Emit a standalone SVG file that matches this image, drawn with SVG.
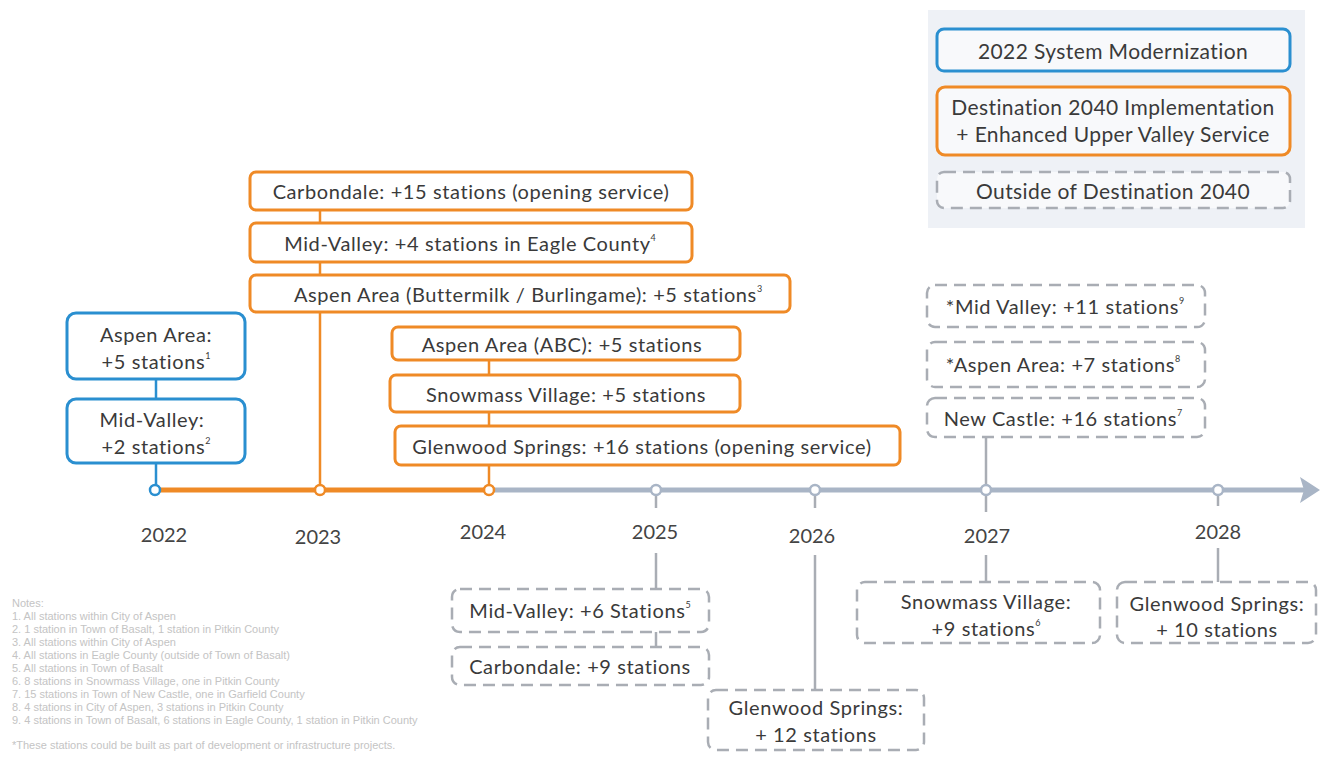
<svg xmlns="http://www.w3.org/2000/svg" width="1323" height="758" viewBox="0 0 1323 758">
<style>
.t{font-family:Lato,"Noto Sans","Liberation Sans",sans-serif;font-size:20px;font-weight:400;letter-spacing:0.6px;fill:#3a3a3a;text-anchor:middle;dominant-baseline:central}
.lg{font-size:21px;letter-spacing:0.4px}
.yr{font-family:Lato,"Noto Sans","Liberation Sans",sans-serif;font-size:20px;font-weight:400;fill:#444;text-anchor:middle;dominant-baseline:central}
.sup{font-size:9px;letter-spacing:0}
.blue{fill:#fff;stroke:#2a8fd0;stroke-width:3}
.orange{fill:#fff;stroke:#ef8a26;stroke-width:3}
.dash{fill:#fff;stroke:#a9adb4;stroke-width:2.5;stroke-dasharray:12 7}
.cb{stroke:#2a8fd0;stroke-width:2.5;fill:none}
.co{stroke:#ef8a26;stroke-width:2.5;fill:none}
.cg{stroke:#a9adb4;stroke-width:2.5;fill:none}
.note{font-family:"Liberation Sans",Arial,sans-serif;font-size:11px;fill:#c4c4c4}
</style>
<rect width="1323" height="758" fill="#fff"/>

<g id="legend">
<rect x="928" y="10" width="377" height="218" fill="#eef1f6"/>
<rect x="937" y="29" width="353" height="42" rx="7" class="blue" style="fill:#f8f9fb"/>
<text class="t lg" x="1113" y="50">2022 System Modernization</text>
<rect x="937" y="87" width="353" height="68" rx="8" class="orange" style="fill:#f8f9fb"/>
<text class="t lg" x="1113" y="106">Destination 2040 Implementation</text>
<text class="t lg" x="1113" y="133">+ Enhanced Upper Valley Service</text>
<rect x="937" y="172" width="353" height="36" rx="7" class="dash" style="fill:#f8f9fb"/>
<text class="t lg" x="1113" y="190">Outside of Destination 2040</text>
</g>

<g id="connectors">
<line x1="155" y1="490" x2="489" y2="490" stroke="#ef8a26" stroke-width="5"/>
<line x1="489" y1="490" x2="1306" y2="490" stroke="#a9b5c6" stroke-width="5"/>
<polygon points="1300,477 1320,490 1300,503 1304,490" fill="#a9b5c6"/>
<line class="cb" x1="156" y1="379" x2="156" y2="399"/>
<line class="cb" x1="156" y1="463" x2="156" y2="485"/>
<line class="co" x1="320" y1="210" x2="320" y2="223"/>
<line class="co" x1="320" y1="262" x2="320" y2="275"/>
<line class="co" x1="320" y1="312" x2="320" y2="485"/>
<line class="co" x1="489" y1="360" x2="489" y2="375"/>
<line class="co" x1="489" y1="412" x2="489" y2="426"/>
<line class="co" x1="489" y1="465" x2="489" y2="485"/>
<line class="cg" x1="656" y1="495" x2="656" y2="508"/>
<line class="cg" x1="656" y1="553" x2="656" y2="589"/>
<line class="cg" x1="656" y1="632" x2="656" y2="647"/>
<line class="cg" x1="815" y1="495" x2="815" y2="508"/>
<line class="cg" x1="815" y1="555" x2="815" y2="690"/>
<line class="cg" x1="986" y1="437" x2="986" y2="485"/>
<line class="cg" x1="986" y1="495" x2="986" y2="512"/>
<line class="cg" x1="986" y1="555" x2="986" y2="582"/>
<line class="cg" x1="1218" y1="495" x2="1218" y2="506"/>
<line class="cg" x1="1218" y1="548" x2="1218" y2="582"/>
<circle cx="155" cy="490" r="5" fill="#fff" stroke="#2a8fd0" stroke-width="2.5"/>
<circle cx="320" cy="490" r="5" fill="#fff" stroke="#ef8a26" stroke-width="2.5"/>
<circle cx="489" cy="490" r="5" fill="#fff" stroke="#ef8a26" stroke-width="2.5"/>
<circle cx="656" cy="490" r="5" fill="#fff" stroke="#a9b5c6" stroke-width="2.5"/>
<circle cx="815" cy="490" r="5" fill="#fff" stroke="#a9b5c6" stroke-width="2.5"/>
<circle cx="986" cy="490" r="5" fill="#fff" stroke="#a9b5c6" stroke-width="2.5"/>
<circle cx="1218" cy="490" r="5" fill="#fff" stroke="#a9b5c6" stroke-width="2.5"/>
</g>

<g id="years">
<text class="yr" x="164" y="534">2022</text>
<text class="yr" x="318" y="536">2023</text>
<text class="yr" x="483" y="531">2024</text>
<text class="yr" x="655" y="531">2025</text>
<text class="yr" x="812" y="535">2026</text>
<text class="yr" x="987" y="535">2027</text>
<text class="yr" x="1218" y="531">2028</text>
</g>

<g id="n2022a"><rect x="67" y="313" width="178" height="66" rx="9" class="blue"/>
<text class="t" x="156" y="334">Aspen Area:</text>
<text class="t" x="156" y="361">+5 stations<tspan class="sup" dy="-6">1</tspan></text></g>
<g id="n2022b"><rect x="67" y="399" width="178" height="64" rx="9" class="blue"/>
<text class="t" x="152" y="419">Mid-Valley:</text>
<text class="t" x="156" y="446">+2 stations<tspan class="sup" dy="-6">2</tspan></text></g>

<g id="n2023a"><rect x="250" y="172" width="442" height="38" rx="6" class="orange"/>
<text class="t" x="471" y="191">Carbondale: +15 stations (opening service)</text></g>
<g id="n2023b"><rect x="250" y="223" width="442" height="39" rx="6" class="orange"/>
<text class="t" x="470" y="243">Mid-Valley: +4 stations in Eagle County<tspan class="sup" dy="-6">4</tspan></text></g>
<g id="n2023c"><rect x="250" y="275" width="540" height="37" rx="6" class="orange"/>
<text class="t" x="528" y="294">Aspen Area (Buttermilk / Burlingame): +5 stations<tspan class="sup" dy="-6">3</tspan></text></g>

<g id="n2024a"><rect x="392" y="327" width="348" height="33" rx="6" class="orange"/>
<text class="t" x="562" y="344">Aspen Area (ABC): +5 stations</text></g>
<g id="n2024b"><rect x="390" y="375" width="350" height="37" rx="6" class="orange"/>
<text class="t" x="566" y="394">Snowmass Village: +5 stations</text></g>
<g id="n2024c"><rect x="395" y="426" width="505" height="39" rx="6" class="orange"/>
<text class="t" x="642" y="446">Glenwood Springs: +16 stations (opening service)</text></g>

<g id="n2025a"><rect x="452" y="589" width="257" height="43" rx="8" class="dash"/>
<text class="t" x="580" y="610">Mid-Valley: +6 Stations<tspan class="sup" dy="-6">5</tspan></text></g>
<g id="n2025b"><rect x="452" y="647" width="257" height="38" rx="8" class="dash"/>
<text class="t" x="580" y="666">Carbondale: +9 stations</text></g>

<g id="n2026"><rect x="708" y="690" width="216" height="60" rx="8" class="dash"/>
<text class="t" x="816" y="707">Glenwood Springs:</text>
<text class="t" x="816" y="734">+ 12 stations</text></g>

<g id="n2027a"><rect x="927" y="285" width="278" height="42" rx="8" class="dash"/>
<text class="t" x="1065" y="306">*Mid Valley: +11 stations<tspan class="sup" dy="-6">9</tspan></text></g>
<g id="n2027b"><rect x="927" y="342" width="278" height="45" rx="8" class="dash"/>
<text class="t" x="1063" y="364">*Aspen Area: +7 stations<tspan class="sup" dy="-6">8</tspan></text></g>
<g id="n2027c"><rect x="927" y="398" width="278" height="39" rx="8" class="dash"/>
<text class="t" x="1063" y="418">New Castle: +16 stations<tspan class="sup" dy="-6">7</tspan></text></g>
<g id="n2027d"><rect x="857" y="582" width="243" height="61" rx="8" class="dash"/>
<text class="t" x="986" y="601">Snowmass Village:</text>
<text class="t" x="986" y="628">+9 stations<tspan class="sup" dy="-6">6</tspan></text></g>

<g id="n2028"><rect x="1117" y="582" width="199" height="61" rx="8" class="dash"/>
<text class="t" x="1217" y="603">Glenwood Springs:</text>
<text class="t" x="1217" y="629">+ 10 stations</text></g>

<g id="notes">
<text class="note" x="12" y="607">Notes:</text>
<text class="note" x="12" y="620">1. All stations within City of Aspen</text>
<text class="note" x="12" y="633">2. 1 station in Town of Basalt, 1 station in Pitkin County</text>
<text class="note" x="12" y="646">3. All stations within City of Aspen</text>
<text class="note" x="12" y="659">4. All stations in Eagle County (outside of Town of Basalt)</text>
<text class="note" x="12" y="672">5. All stations in Town of Basalt</text>
<text class="note" x="12" y="685">6. 8 stations in Snowmass Village, one in Pitkin County</text>
<text class="note" x="12" y="698">7. 15 stations in Town of New Castle, one in Garfield County</text>
<text class="note" x="12" y="711">8. 4 stations in City of Aspen, 3 stations in Pitkin County</text>
<text class="note" x="12" y="724">9. 4 stations in Town of Basalt, 6 stations in Eagle County, 1 station in Pitkin County</text>
<text class="note" x="12" y="749">*These stations could be built as part of development or infrastructure projects.</text>
</g>
</svg>
